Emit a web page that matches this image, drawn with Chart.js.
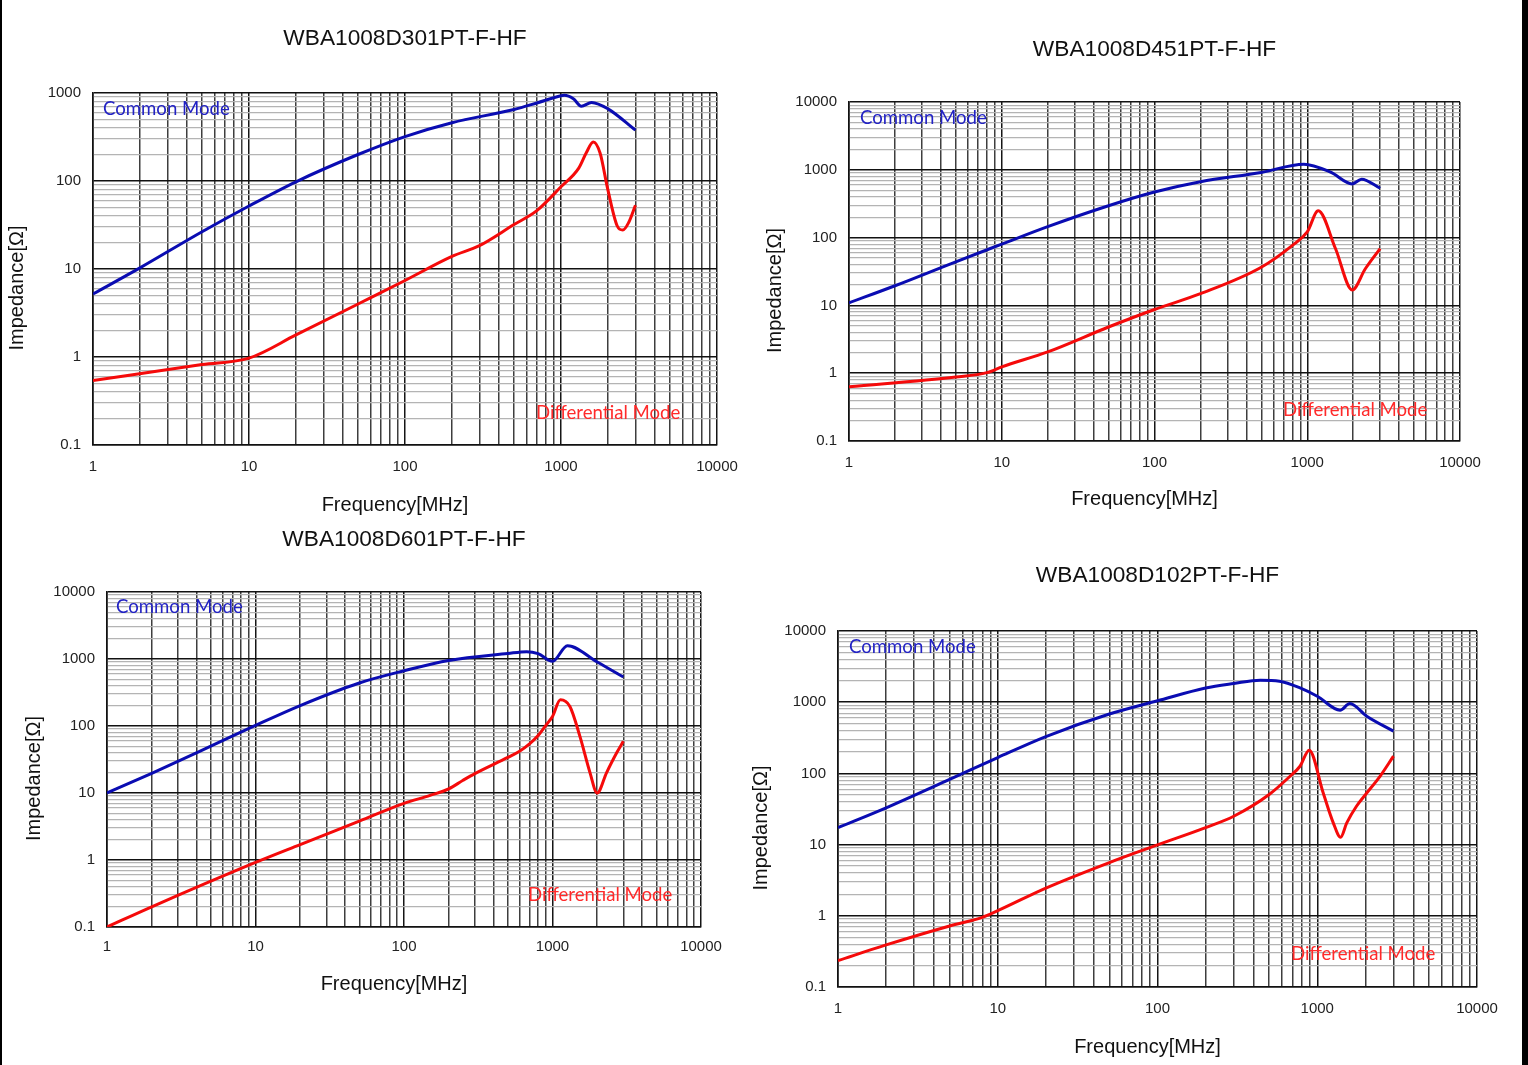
<!DOCTYPE html>
<html>
<head>
<meta charset="utf-8">
<script src="https://cdn.jsdelivr.net/npm/chart.js@4.4.1/dist/chart.umd.min.js"></script>
<style>
  html, body { margin: 0; padding: 0; background: #fff; }
  body { width: 1528px; height: 1065px; position: relative; overflow: hidden; }
  .box { position: absolute; }
  .edge { position: absolute; top: 0; height: 1065px; background: #000; z-index: 5; }
</style>
</head>
<body>
<div class="box" id="b0" style="left:0;top:0;width:764px;height:520px"><canvas id="c0"></canvas></div>
<div class="box" id="b1" style="left:740px;top:0;width:788px;height:520px"><canvas id="c1"></canvas></div>
<div class="box" id="b2" style="left:0;top:520px;width:764px;height:545px"><canvas id="c2"></canvas></div>
<div class="box" id="b3" style="left:740px;top:520px;width:788px;height:545px"><canvas id="c3"></canvas></div>
<div class="edge" style="left:0;width:2px"></div>
<div class="edge" style="left:1522px;width:6px"></div>
<script>
// frequencies in MHz, impedance in ohm

// WBA1008D301PT-F-HF
const cmFreq301 = [1, 2, 5, 10, 20, 50, 100, 200, 500, 700, 1000, 1050, 1200, 1350, 1570, 2000, 3000];
const cm301 = [5.2, 10.3, 26.5, 52, 98, 200, 320, 460, 650, 770, 930, 940, 860, 708, 780, 660, 378];
const dmFreq301 = [1, 5, 10, 20, 50, 100, 200, 300, 500, 700, 1000, 1300, 1450, 1610, 1780, 1990, 2290, 2490, 2720, 3000];
const dm301 = [0.54, 0.82, 0.97, 1.78, 4.0, 7.4, 13.9, 18.4, 32, 46, 86, 140, 208, 277, 208, 82, 31, 27.7, 34, 53];

// WBA1008D451PT-F-HF
const cmFreq451 = [1, 2, 5, 10, 20, 50, 100, 200, 500, 950, 1420, 1970, 2270, 3000];
const cm451 = [10.9, 19.5, 44, 80, 145, 295, 470, 667, 914, 1210, 924, 620, 727, 534];
const dmFreq451 = [1, 5, 8, 10, 20, 50, 100, 200, 500, 800, 1000, 1180, 1530, 1970, 2400, 3000];
const dm451 = [0.63, 0.88, 1.02, 1.24, 2.06, 4.8, 8.7, 14.9, 36.6, 77, 121, 249, 69, 16.9, 34.7, 69];

// WBA1008D601PT-F-HF
const cmFreq601 = [1, 2, 5, 10, 20, 50, 100, 200, 500, 670, 800, 1000, 1260, 2000, 3000];
const cm601 = [10, 19.7, 50, 102, 202, 439, 667, 953, 1210, 1286, 1200, 923, 1581, 903, 538];
const dmFreq601 = [1, 2, 10, 20, 50, 100, 150, 200, 250, 300, 500, 600, 700, 800, 910, 1000, 1130, 1310, 1530, 1790, 2000, 2310, 2700, 3000];
const dm601 = [0.1, 0.2, 0.92, 1.7, 3.8, 7.0, 9.2, 11.5, 15.5, 19.5, 34, 42, 54, 72, 105, 139, 247, 196, 70, 20, 10, 20, 39.5, 59];

// WBA1008D102PT-F-HF
const cmFreq102 = [1, 2, 5, 10, 20, 50, 100, 200, 300, 440, 580, 780, 1000, 1390, 1600, 2040, 3000];
const cm102 = [17.3, 32.9, 82.6, 167, 329, 682, 1047, 1585, 1830, 2036, 1973, 1589, 1214, 773, 958, 636, 392];
const dmFreq102 = [1, 2, 5, 8, 10, 20, 50, 100, 200, 300, 500, 675, 780, 890, 1090, 1260, 1400, 1530, 1760, 2040, 2470, 3000];
const dm102 = [0.235, 0.39, 0.72, 0.95, 1.18, 2.45, 5.6, 9.9, 17.3, 25, 50.5, 91, 126, 212, 53, 20.2, 12.7, 20.2, 34.6, 53, 91, 175];

const partNames = ['WBA1008D301PT-F-HF', 'WBA1008D451PT-F-HF', 'WBA1008D601PT-F-HF', 'WBA1008D102PT-F-HF'];
const decadeLabels = ['0.1', '1', '10', '100', '1000', '10000'];
const gridSteps = [1, 2, 3, 4, 5, 6, 7, 8, 9];

const BLUE = '#0a0cb2';
const RED = '#f50a0a';
const FONT = '"Liberation Sans", Arial, sans-serif';

// page positions of each panel (box = canvas, plot = chart area)
const panels = [
  { box: [0, 0, 764, 520], plot: [93, 93, 717, 445], titleY: 39, xTitleY: 505, yTitleX: 17, yMax: 1000, xGap: 13,
    cm: [103, 109], dm: [536, 413], series: [cmFreq301, cm301, dmFreq301, dm301] },
  { box: [740, 0, 788, 520], plot: [849, 102, 1460, 441], titleY: 50, xTitleY: 499, yTitleX: 775, yMax: 10000, xGap: 13,
    cm: [860, 118], dm: [1283, 410], series: [cmFreq451, cm451, dmFreq451, dm451] },
  { box: [0, 520, 764, 545], plot: [107, 592, 701, 927], titleY: 540, xTitleY: 984, yTitleX: 34, yMax: 10000, xGap: 11,
    cm: [116, 607], dm: [528, 895], series: [cmFreq601, cm601, dmFreq601, dm601] },
  { box: [740, 520, 788, 545], plot: [838, 631, 1477, 987], titleY: 576, xTitleY: 1047, yTitleX: 761, yMax: 10000, xGap: 13,
    cm: [849, 647], dm: [1291, 954], series: [cmFreq102, cm102, dmFreq102, dm102] }
];

function isDecade(v) {
  const l = Math.log10(v);
  return Math.abs(l - Math.round(l)) < 1e-6;
}

function decadeLabel(v) {
  if (!isDecade(v)) return '';
  return decadeLabels[Math.round(Math.log10(v)) + 1];
}

function logTicks(min, max) {
  const out = [];
  for (let e = Math.round(Math.log10(min)); e < Math.round(Math.log10(max)); e++) {
    gridSteps.forEach(m => out.push({ value: +(m * Math.pow(10, e)).toPrecision(6) }));
  }
  out.push({ value: max });
  return out;
}

function points(xs, ys) {
  return xs.map((x, i) => ({ x: x, y: ys[i] }));
}

// axis titles and mode labels, placed in page coordinates
const panelText = {
  id: 'panelText',
  afterDraw(chart, args, o) {
    const { ctx, chartArea: a } = chart;
    const ox = o.box[0], oy = o.box[1];
    ctx.save();
    ctx.textBaseline = 'middle';
    ctx.fillStyle = '#111';
    ctx.font = '20px ' + FONT;
    ctx.textAlign = 'center';
    ctx.fillText('Frequency[MHz]', (a.left + a.right) / 2 - 10, o.xTitleY - oy);
    ctx.save();
    ctx.translate(o.yTitleX - ox, (a.top + a.bottom) / 2 + 19);
    ctx.rotate(-Math.PI / 2);
    ctx.fillText('Impedance[\u03A9]', 0, 0);
    ctx.restore();
    ctx.textAlign = 'left';
    ctx.font = '18.6px Lato, "Liberation Sans", sans-serif';
    ctx.fillStyle = '#2222c4';
    ctx.fillText('Common Mode', o.cm[0] - ox, o.cm[1] - oy);
    ctx.fillStyle = '#ff2a2a';
    ctx.fillText('Differential Mode', o.dm[0] - ox, o.dm[1] - oy);
    ctx.restore();
  }
};

panels.forEach((p, i) => {
  const [bx, by, bw, bh] = p.box;
  const [pl, pt, pr, pb] = p.plot;
  const yAxisW = 60;
  const titleSize = 22.7;
  const titleLine = titleSize * 1.2;
  const titleTop = p.titleY - by - titleLine / 2;
  const s = p.series;

  new Chart(document.getElementById('c' + i), {
    type: 'line',
    data: {
      datasets: [
        { label: 'Common Mode', data: points(s[0], s[1]), borderColor: BLUE, borderWidth: 3,
          pointRadius: 0, cubicInterpolationMode: 'monotone' },
        { label: 'Differential Mode', data: points(s[2], s[3]), borderColor: RED, borderWidth: 3,
          pointRadius: 0, cubicInterpolationMode: 'monotone' }
      ]
    },
    options: {
      responsive: true,
      maintainAspectRatio: false,
      animation: false,
      events: [],
      layout: { padding: { left: pl - bx - yAxisW, right: bx + bw - pr, top: 0, bottom: 0 } },
      scales: {
        x: {
          type: 'logarithmic', min: 1, max: 10000,
          afterBuildTicks: sc => { sc.ticks = logTicks(1, 10000); },
          afterFit: sc => { sc.height = by + bh - pb; },
          ticks: { autoSkip: false, maxRotation: 0, padding: p.xGap, color: '#222',
                   font: { family: FONT, size: 15 }, callback: v => decadeLabel(v) },
          grid: { drawTicks: false, color: c => isDecade(c.tick.value) ? '#151515' : '#3e3e3e',
                  lineWidth: 1.5 },
          border: { color: '#111', width: 1.6 }
        },
        y: {
          type: 'logarithmic', min: 0.1, max: p.yMax,
          afterBuildTicks: sc => { sc.ticks = logTicks(0.1, p.yMax); },
          afterFit: sc => { sc.width = yAxisW; },
          ticks: { autoSkip: false, padding: 12, color: '#222',
                   font: { family: FONT, size: 15 }, callback: v => decadeLabel(v) },
          grid: { drawTicks: false, color: c => isDecade(c.tick.value) ? '#111' : '#b4b4b4',
                  lineWidth: c => isDecade(c.tick.value) ? 1.6 : 1.2 },
          border: { color: '#111', width: 1.6 }
        }
      },
      plugins: {
        legend: { display: false },
        tooltip: { enabled: false },
        title: {
          display: true, text: partNames[i], fullSize: false, color: '#111',
          font: { family: FONT, size: titleSize, weight: 'normal', lineHeight: 1.2 },
          padding: { top: titleTop, bottom: pt - by - titleTop - titleLine }
        },
        panelText: { box: p.box, xTitleY: p.xTitleY, yTitleX: p.yTitleX, cm: p.cm, dm: p.dm }
      }
    },
    plugins: [panelText]
  });
});
</script>
</body>
</html>
